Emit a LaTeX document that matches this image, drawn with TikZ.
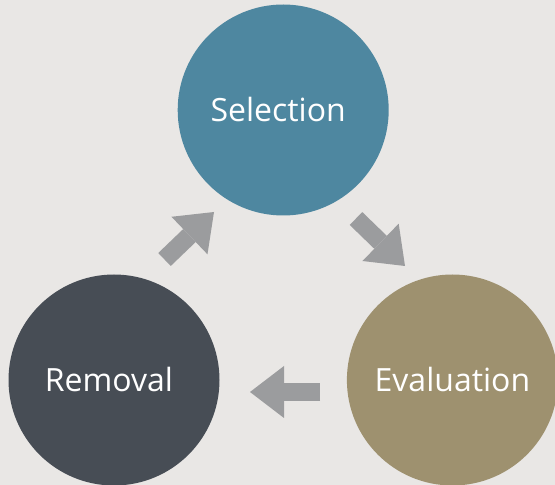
\documentclass[tikz,border=0pt]{standalone}
\usepackage{fontspec}
\setmainfont{Open Sans}
\usepackage{xcolor}
\usepackage{tikz}
\usetikzlibrary{arrows.meta, positioning, calc}

\definecolor{bggray}{HTML}{E9E7E5}
\definecolor{selblue}{HTML}{4E87A0}
\definecolor{remslate}{HTML}{474D55}
\definecolor{evaltan}{HTML}{9E916F}
\definecolor{arrowgray}{HTML}{9B9C9E}

\begin{document}
\begin{tikzpicture}[
        x=1pt, y=1pt,
        stage/.style={circle, minimum size=211pt, inner sep=0pt, text=white, font=\fontsize{32}{38}\selectfont},
        cyclearrow/.style={draw=arrowgray, line width=18pt, -{Triangle[length=34pt, width=52pt, line width=0pt 0]}}
    ]

    \fill[bggray] (0,0) rectangle (555,485);
    \useasboundingbox (0,0) rectangle (555,485);

    % --- NODES ---
    \node (rem) [stage, fill=remslate] at (114,105) {\hspace{-10pt}Removal};
    \node (eva) [stage, fill=evaltan, right=127pt of rem] {Evaluation};
    \node (sel) [stage, fill=selblue] at ($(rem)!0.5!(eva)+(0,270)$) {\hspace{-10pt}Selection};

    % arrow ends
    \coordinate (a1s) at (164.5,225.5);
    \coordinate (a1e) at (214,273);
    \coordinate (a2s) at (356,266.5);
    \coordinate (a2e) at (405,219);
    \coordinate (a3s) at (320,93);
    \coordinate (a3e) at (250,93);

    % --- ARROWS ---
    \draw [cyclearrow] (a1s) -- (a1e);
    \draw [cyclearrow] (a2s) -- (a2e);
    \draw [cyclearrow] (a3s) -- (a3e);

\end{tikzpicture}
\end{document}
